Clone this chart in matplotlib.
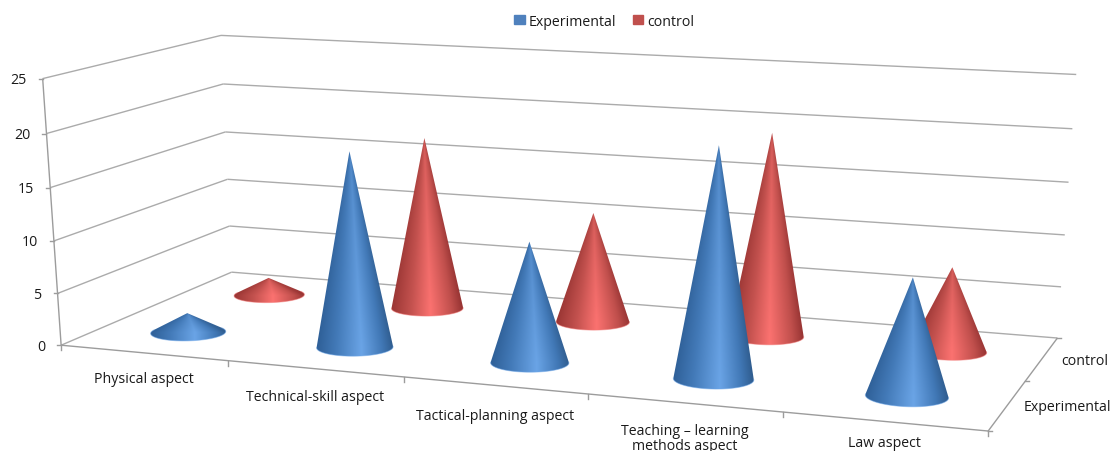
import numpy as np
import matplotlib
matplotlib.use("Agg")
import matplotlib.pyplot as plt
from matplotlib.colors import LinearSegmentedColormap
from matplotlib.patches import Patch, Polygon


CATEGORIES = [
    "Physical aspect",
    "Technical-skill aspect",
    "Tactical-planning aspect",
    "Teaching – learning\nmethods aspect",
    "Law aspect",
]
SERIES = ["Experimental", "control"]
EXPERIMENTAL = [1.9, 18.5, 11.3, 21, 10.6]
CONTROL = [1.8, 17.1, 10.8, 19.5, 8.0]
Z_TICKS = [0, 5, 10, 15, 20, 25]

GRID = "#ababab"
AXIS = "#9c9c9c"
TEXT = "#1a1a1a"
FONT = "Open Sans"
FONT_SIZE = 10.2

BLUE = LinearSegmentedColormap.from_list("blue_cone", [
    (0.0, "#2f6098"), (0.25, "#437ab8"), (0.58, "#6aa4e6"), (0.85, "#4178b6"), (1.0, "#2f5c8e"),
])
RED = LinearSegmentedColormap.from_list("red_cone", [
    (0.0, "#9a3634"), (0.28, "#c4524f"), (0.55, "#fb7270"), (0.85, "#c04f4c"), (1.0, "#973433"),
])

# camera calibration: chart position (category, series, value) -> pixel
CALIB = [
    (0, 0, 0, 62.5, 347), (1, 0, 0, 229, 362), (2, 0, 0, 404, 378),
    (3, 0, 0, 588, 395), (4, 0, 0, 783, 412), (5, 0, 0, 988, 433),
    (0, 0, 5, 57, 294), (0, 0, 10, 53, 242), (0, 0, 15, 50, 188),
    (0, 0, 20, 46, 134), (0, 0, 25, 43, 80),
    (0, 2, 0, 231, 273), (0, 2, 5, 229, 227), (0, 2, 10, 227.5, 180),
    (0, 2, 15, 226, 133), (0, 2, 20, 223.5, 85), (0, 2, 25, 221, 37),
    (5, 2, 0, 1056.5, 339), (5, 2, 5, 1062, 288), (5, 2, 10, 1065, 236),
    (5, 2, 15, 1069, 183), (5, 2, 20, 1072, 129), (5, 2, 25, 1076, 76),
]


# direct linear transform, coords scaled to about 0..1 to keep it stable
def fit_camera(calib):
    rows = []
    for cx, cy, cz, px, py in calib:
        v = [cx / 5, cy / 2, cz / 25, 1]
        u, w = px / 1000, py / 1000
        rows.append(v + [0, 0, 0, 0] + [-u * a for a in v])
        rows.append([0, 0, 0, 0] + v + [-w * a for a in v])
    _, _, vt = np.linalg.svd(np.array(rows))
    return vt[-1].reshape(3, 4)


CAM = fit_camera(CALIB)


def project(cx, cy, cz):
    cx, cy, cz = np.broadcast_arrays(np.asarray(cx, float), np.asarray(cy, float), np.asarray(cz, float))
    v = np.stack([cx / 5, cy / 2, cz / 25, np.ones(cx.shape)])
    p = CAM @ v
    return p[0] / p[2] * 1000, p[1] / p[2] * 1000


def line3d(ax, a, b, color=GRID, lw=1.0, z=1):
    x, y = project([a[0], b[0]], [a[1], b[1]], [a[2], b[2]])
    ax.plot(x, y, color=color, lw=lw, zorder=z, solid_capstyle="butt")


# shaded cone: gradient image clipped to the outline of apex plus base ellipse
def draw_cone(ax, cat, ser, value, cmap, rim, z):
    rx, ry = 0.205, 0.2
    theta = np.linspace(0, 2 * np.pi, 361)
    bx, by = project(cat + 0.5 + rx * np.cos(theta), ser + 0.5 + ry * np.sin(theta), 0 * theta)
    tx, ty = project(cat + 0.5, ser + 0.5, value)
    tx, ty = float(tx), float(ty)
    mx, my = (bx.min() + bx.max()) / 2, (by.min() + by.max()) / 2
    half = (bx.max() - bx.min()) / 2

    # outline runs from the apex along the two tangents and round the near side
    angle = np.arctan2(bx - tx, by - ty)
    i_left, i_right = int(np.argmin(angle)), int(np.argmax(angle))
    idx = np.arange(i_left, i_right + 1) if i_left < i_right else np.arange(i_left, i_right + 361) % 360
    if by[idx].mean() < my:
        idx = np.arange(i_right, i_left + 1) if i_right < i_left else np.arange(i_right, i_left + 361) % 360
    outline = [(tx, ty)] + list(zip(bx[idx], by[idx]))

    x0, x1 = bx.min() - 1, bx.max() + 1
    y0, y1 = ty - 1, by.max() + 1
    xs = np.linspace(x0, x1, max(int((x1 - x0) * 2), 8))
    ys = np.linspace(y0, y1, max(int((y1 - y0) * 2), 8))
    X, Y = np.meshgrid(xs, ys)
    frac = np.clip((Y - ty) / (my - ty), 0.01, 1)
    u = (X - (tx + (mx - tx) * frac)) / (half * frac)
    rgb = cmap(np.clip((u + 1) / 2, 0, 1))[..., :3]
    # highlight fades toward the apex
    base = np.array(cmap(0.25)[:3])
    mix = (0.4 + 0.6 * frac)[..., None]
    rgb = rgb * mix + base * (1 - mix)

    im = ax.imshow(rgb, extent=(x0, x1, y1, y0), origin="upper", interpolation="bilinear",
                   aspect="auto", zorder=z)
    clip = Polygon(outline, closed=True, transform=ax.transData)
    im.set_clip_path(clip)

    ax.plot(bx[idx], by[idx], color=rim, lw=0.7, zorder=z + 0.1, alpha=0.5)


def main():
    fig = plt.figure(figsize=(11.14, 4.52), dpi=100)
    ax = fig.add_axes([0, 0, 1, 1])

    # walls
    for v in Z_TICKS:
        line3d(ax, (0, 0, v), (0, 2, v))
        line3d(ax, (0, 2, v), (5, 2, v))
    line3d(ax, (0, 0, 0), (0, 0, 25), color=AXIS)

    # floor edges and tick marks
    line3d(ax, (0, 0, 0), (5, 0, 0), color=AXIS)
    line3d(ax, (5, 0, 0), (5, 2, 0), color=AXIS)
    for i in range(len(CATEGORIES) + 1):
        x, y = project(i, 0, 0)
        ax.plot([x, x], [y, y + 5], color=AXIS, lw=1.0, zorder=1)
    for j in range(3):
        x, y = project(5, j, 0)
        ax.plot([x, x + 4], [y, y], color=AXIS, lw=1.0, zorder=1)
    for v in Z_TICKS:
        x, y = project(0, 0, v)
        ax.plot([x - 4, x], [y, y], color=AXIS, lw=1.0, zorder=1)
        ax.text(x - 16, y + 1, str(v), ha="right", va="center", fontsize=FONT_SIZE, color=TEXT, family=FONT)

    # back row first, each row left to right
    for i, v in enumerate(CONTROL):
        draw_cone(ax, i, 1, v, RED, "#f47a78", 3 + i * 0.2)
    for i, v in enumerate(EXPERIMENTAL):
        draw_cone(ax, i, 0, v, BLUE, "#6fa8ea", 5 + i * 0.2)

    # category labels under the front edge
    label_drop = [26, 28, 30, 35, 21]
    for i, name in enumerate(CATEGORIES):
        x, y = project(i + 0.5, 0, 0)
        ax.text(x, y + label_drop[i], name, ha="center", va="center", fontsize=FONT_SIZE, color=TEXT,
                family=FONT, linespacing=1.0)

    # series labels beside the right floor edge
    ax.text(1061, 362, SERIES[1], ha="left", va="center", fontsize=FONT_SIZE, color=TEXT, family=FONT)
    ax.text(1024, 408, SERIES[0], ha="left", va="center", fontsize=FONT_SIZE, color=TEXT, family=FONT)

    handles = [Patch(color="#4f81bd", label=SERIES[0]), Patch(color="#c0504d", label=SERIES[1])]
    leg = ax.legend(handles=handles, loc="center", bbox_to_anchor=(604 / 1114, 1 - 22 / 452), ncol=2,
                    frameon=False, handlelength=0.75, handleheight=0.6, handletextpad=0.25, columnspacing=1.2,
                    prop={"family": FONT, "size": FONT_SIZE})
    for t in leg.get_texts():
        t.set_color(TEXT)

    ax.set_xlim(0, 1114)
    ax.set_ylim(452, 0)
    ax.axis("off")

    fig.savefig("out.png", dpi=100)
    plt.close(fig)


if __name__ == "__main__":
    main()
